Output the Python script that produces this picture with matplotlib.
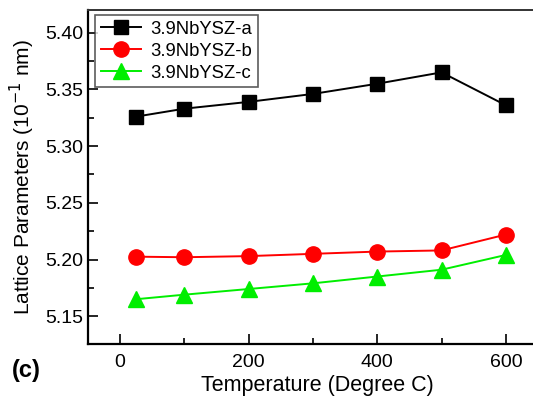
import matplotlib
matplotlib.use("Agg")
import matplotlib.pyplot as plt
from matplotlib.ticker import MultipleLocator

plt.rcParams['font.family'] = ['Liberation Sans', 'DejaVu Sans']

temperature = [25, 100, 200, 300, 400, 500, 600]
series_a = [5.326, 5.333, 5.339, 5.346, 5.355, 5.365, 5.336]
series_b = [5.2025, 5.202, 5.203, 5.205, 5.207, 5.208, 5.222]
series_c = [5.165, 5.169, 5.174, 5.179, 5.185, 5.191, 5.204]
labels = ['3.9NbYSZ-a', '3.9NbYSZ-b', '3.9NbYSZ-c']

fig = plt.figure(figsize=(5.33, 4.0), dpi=100)
ax = fig.add_axes([88/533, 1-344/400, (547-88)/533, (344-10)/400])

ax.plot(temperature, series_a, color='black', marker='s', markersize=10, lw=1.4, label=labels[0])
ax.plot(temperature, series_b, color='red', marker='o', markersize=11, lw=1.4, label=labels[1])
ax.plot(temperature, series_c, color='#00ee00', marker='^', markersize=11, lw=1.4, label=labels[2])

ax.set_xlim(-50, 664)
ax.set_ylim(5.1255, 5.42)
ax.xaxis.set_major_locator(MultipleLocator(200))
ax.xaxis.set_minor_locator(MultipleLocator(100))
ax.yaxis.set_major_locator(MultipleLocator(0.05))
ax.yaxis.set_minor_locator(MultipleLocator(0.025))
ax.yaxis.set_major_formatter(matplotlib.ticker.FormatStrFormatter('%.2f'))
ax.tick_params(which='both', direction='in', labelsize=14, width=1.2)
ax.tick_params(which='major', length=7)
ax.tick_params(which='minor', length=4)
ax.tick_params(axis='x', pad=7)
for s in ['left', 'bottom']:
    ax.spines[s].set_linewidth(1.6)
ax.spines['top'].set_linewidth(1.4)
ax.spines['top'].set_color('#333333')
ax.spines['right'].set_visible(False)

ax.set_xlabel('Temperature (Degree C)', fontsize=15.5, labelpad=3)
ax.set_ylabel('Lattice Parameters (10$^{-1}$ nm)', fontsize=15, labelpad=6)

leg = ax.legend(loc='upper left', fontsize=13.3, frameon=True, fancybox=False,
                borderpad=0.3, labelspacing=0.28, handlelength=2.2, handletextpad=0.5,
                borderaxespad=0.0, bbox_to_anchor=(7/459, 1 - 5/334))
leg.get_frame().set_edgecolor('#333333')
leg.get_frame().set_linewidth(1.2)

fig.text(12/533, 1-370/400, '(c)', fontsize=17, fontweight='bold', va='center', ha='left')

fig.savefig('out.png', dpi=100)
